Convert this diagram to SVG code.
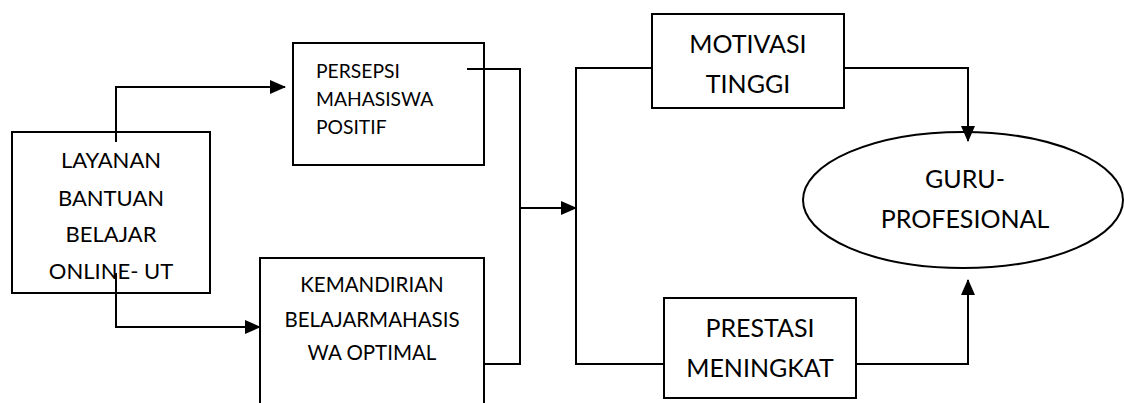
<svg xmlns="http://www.w3.org/2000/svg" width="1124" height="403" viewBox="0 0 1124 403">
<style>
.box{fill:#fff;stroke:#000;stroke-width:2}
.ln{fill:none;stroke:#000;stroke-width:2}
text{font-family:Lato,"Open Sans",sans-serif;fill:#000}
.c{text-anchor:middle}
.l1{font-size:22px}
.l2{font-size:19.3px}
.l3{font-size:20.5px}
.r{font-size:25px}
</style>
<defs>
<marker id="ah" markerUnits="userSpaceOnUse" markerWidth="16" markerHeight="14" refX="15" refY="7" orient="auto">
<path d="M0,0 L16,7 L0,14 Z" fill="#000"/>
</marker>
</defs>
<rect width="1124" height="403" fill="#fff"/>
<g id="layanan">
<rect class="box" x="12" y="132" width="198" height="161"/>
<text class="c l1" x="111" y="168">LAYANAN</text>
<text class="c l1" x="111" y="206">BANTUAN</text>
<text class="c l1" x="111" y="242">BELAJAR</text>
<text class="c l1" x="111" y="279">ONLINE- UT</text>
</g>
<g id="persepsi">
<rect class="box" x="293" y="43" width="191" height="122"/>
<text class="l2" x="316" y="78">PERSEPSI</text>
<text class="l2" x="316" y="106">MAHASISWA</text>
<text class="l2" x="316" y="134">POSITIF</text>
</g>
<g id="kemandirian">
<rect class="box" x="260" y="258" width="224" height="160"/>
<text class="c l3" x="372" y="292">KEMANDIRIAN</text>
<text class="c l3" x="372" y="327">BELAJARMAHASIS</text>
<text class="c l3" x="372" y="360">WA OPTIMAL</text>
</g>
<g id="motivasi">
<rect class="box" x="652" y="14" width="192" height="94"/>
<text class="c r" x="748" y="53">MOTIVASI</text>
<text class="c r" x="748" y="93">TINGGI</text>
</g>
<g id="prestasi">
<rect class="box" x="664" y="298" width="192" height="100"/>
<text class="c r" x="760" y="337">PRESTASI</text>
<text class="c r" x="760" y="377">MENINGKAT</text>
</g>
<g id="guru">
<ellipse class="box" cx="963" cy="200" rx="160" ry="68"/>
<text class="c r" x="965" y="188">GURU-</text>
<text class="c r" x="965" y="228">PROFESIONAL</text>
</g>
<g id="connectors">
<path class="ln" d="M116,142 V87 H285" marker-end="url(#ah)"/>
<path class="ln" d="M116,273 V327 H260" marker-end="url(#ah)"/>
<path class="ln" d="M467,69 H520 V364 H484"/>
<path class="ln" d="M520,208 H576" marker-end="url(#ah)"/>
<path class="ln" d="M652,68 H576 V364 H664"/>
<path class="ln" d="M844,68 H968 V141" marker-end="url(#ah)"/>
<path class="ln" d="M856,364 H968 V280" marker-end="url(#ah)"/>
</g>
</svg>
